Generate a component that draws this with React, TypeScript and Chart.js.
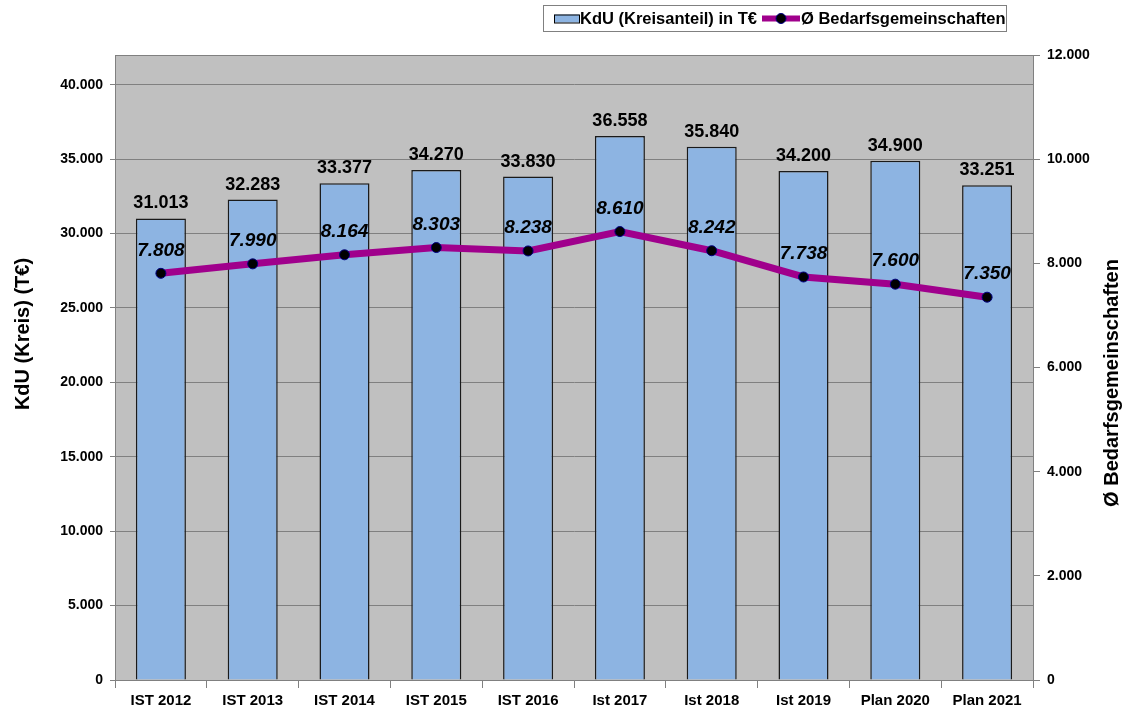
import React, { useEffect, useRef } from 'react';
import { Chart, registerables } from 'chart.js';
Chart.register(...registerables);

const categories = ['IST 2012', 'IST 2013', 'IST 2014', 'IST 2015', 'IST 2016', 'Ist 2017', 'Ist 2018', 'Ist 2019', 'Plan 2020', 'Plan 2021'];
const kduValues = [31013, 32283, 33377, 34270, 33830, 36558, 35840, 34200, 34900, 33251];
const bgValues = [7808, 7990, 8164, 8303, 8238, 8610, 8242, 7738, 7600, 7350];
const leftTickValues = [0, 5000, 10000, 15000, 20000, 25000, 30000, 35000, 40000];
const rightTickValues = [0, 2000, 4000, 6000, 8000, 10000, 12000];
const barLabel = 'KdU (Kreisanteil) in T€';
const lineLabel = 'Ø Bedarfsgemeinschaften';
const leftTitle = 'KdU (Kreis) (T€)';
const rightTitle = 'Ø Bedarfsgemeinschaften';

const FONT = "Arial, 'Liberation Sans', sans-serif";
const BAR_COLOR = '#8DB4E2';
const LINE_COLOR = '#A0008C';

function de(n: number): string {
  return String(Math.round(n)).replace(/\B(?=(\d{3})+(?!\d))/g, '.');
}

const decoPlugin = {
  id: 'deco',
  beforeDraw(chart: any) {
    const { ctx, chartArea } = chart;
    ctx.save();
    ctx.fillStyle = '#C0C0C0';
    ctx.fillRect(chartArea.left, chartArea.top, chartArea.right - chartArea.left, chartArea.bottom - chartArea.top);
    ctx.restore();
  },
  afterDraw(chart: any) {
    const { ctx, chartArea } = chart;
    ctx.save();
    ctx.strokeStyle = '#808080';
    ctx.lineWidth = 1;
    ctx.beginPath();
    ctx.moveTo(chartArea.left, chartArea.top + 0.5);
    ctx.lineTo(chartArea.right, chartArea.top + 0.5);
    ctx.stroke();

    const barMeta = chart.getDatasetMeta(0);
    const lineMeta = chart.getDatasetMeta(1);
    ctx.fillStyle = '#000';
    ctx.textAlign = 'center';
    ctx.textBaseline = 'middle';
    ctx.font = `bold 18px ${FONT}`;
    barMeta.data.forEach((el: any, i: number) => {
      ctx.fillText(de(kduValues[i]), el.x, el.y - 15);
    });
    ctx.font = `italic bold 19px ${FONT}`;
    lineMeta.data.forEach((el: any, i: number) => {
      ctx.fillText(de(bgValues[i]), el.x, el.y - 23);
    });

    ctx.font = `bold 20px ${FONT}`;
    ctx.save();
    ctx.translate(23, 334);
    ctx.rotate(-Math.PI / 2);
    ctx.fillText(leftTitle, 0, 0);
    ctx.restore();
    ctx.save();
    ctx.translate(1112, 383);
    ctx.rotate(-Math.PI / 2);
    ctx.fillText(rightTitle, 0, 0);
    ctx.restore();

    const lx = 543, ly = 5, lw = 463, lh = 26;
    ctx.fillStyle = '#FFFFFF';
    ctx.fillRect(lx, ly, lw, lh);
    ctx.strokeStyle = '#808080';
    ctx.lineWidth = 1;
    ctx.strokeRect(lx + 0.5, ly + 0.5, lw, lh);
    const cy = ly + lh / 2 + 0.5;
    ctx.fillStyle = BAR_COLOR;
    ctx.fillRect(554, cy - 4, 25, 8);
    ctx.strokeStyle = '#000';
    ctx.strokeRect(554.5, cy - 3.5, 25, 8);
    ctx.fillStyle = '#000';
    ctx.textAlign = 'left';
    ctx.font = `bold 16.5px ${FONT}`;
    ctx.fillText(barLabel, 580, cy + 1);
    ctx.strokeStyle = LINE_COLOR;
    ctx.lineWidth = 6;
    ctx.beginPath();
    ctx.moveTo(762, cy);
    ctx.lineTo(800, cy);
    ctx.stroke();
    ctx.beginPath();
    ctx.arc(781, cy, 5, 0, Math.PI * 2);
    ctx.fillStyle = '#000';
    ctx.fill();
    ctx.lineWidth = 1;
    ctx.strokeStyle = '#000080';
    ctx.stroke();
    ctx.fillStyle = '#000';
    ctx.fillText(lineLabel, 801, cy + 1);
    ctx.restore();
  },
};

export default function App() {
  const ref = useRef<HTMLCanvasElement | null>(null);
  useEffect(() => {
    if (!ref.current) return;
    const chart = new Chart(ref.current, {
      type: 'bar',
      data: {
        labels: categories,
        datasets: [
          {
            type: 'bar',
            label: barLabel,
            data: kduValues,
            backgroundColor: BAR_COLOR,
            borderColor: '#1a1a1a',
            borderWidth: 1.5,
            barPercentage: 0.545,
            categoryPercentage: 1,
            yAxisID: 'y',
            order: 1,
          },
          {
            type: 'line',
            label: lineLabel,
            data: bgValues,
            borderColor: LINE_COLOR,
            borderWidth: 7,
            pointRadius: 5,
            pointBackgroundColor: '#000',
            pointBorderColor: '#000080',
            pointBorderWidth: 1,
            yAxisID: 'y1',
            order: 0,
            tension: 0,
          } as any,
        ],
      },
      options: {
        responsive: false,
        animation: false,
        layout: { padding: { top: 55, left: 0, right: 0, bottom: 0 } },
        plugins: { legend: { display: false }, tooltip: { enabled: false } },
        scales: {
          x: {
            offset: true,
            grid: { display: true, drawOnChartArea: false, offset: true, tickLength: 8, color: '#808080' },
            border: { display: true, color: '#808080' },
            ticks: { color: '#000', font: { family: FONT, weight: 'bold', size: 15 }, padding: 4, maxRotation: 0 },
            afterFit: (s: any) => { s.height = 28; },
          },
          y: {
            position: 'left',
            min: 0,
            max: 42000,
            ticks: { autoSkip: false, callback: (v: any) => de(Number(v)), color: '#000', font: { family: FONT, weight: 'bold', size: 14 }, padding: 7 },
            grid: { color: '#808080', tickLength: 5 },
            border: { display: true, color: '#808080' },
            afterBuildTicks: (s: any) => { s.ticks = leftTickValues.map((v) => ({ value: v })); },
            afterFit: (s: any) => { s.width = 115; },
          },
          y1: {
            position: 'right',
            min: 0,
            max: 12000,
            ticks: { autoSkip: false, callback: (v: any) => de(Number(v)), color: '#000', font: { family: FONT, weight: 'bold', size: 14 }, padding: 7 },
            grid: { drawOnChartArea: false, color: '#808080', tickLength: 7 },
            border: { display: true, color: '#808080' },
            afterBuildTicks: (s: any) => { s.ticks = rightTickValues.map((v) => ({ value: v })); },
            afterFit: (s: any) => { s.width = 92; },
          },
        },
      } as any,
      plugins: [decoPlugin],
    });
    return () => chart.destroy();
  }, []);
  return (
    <div style={{ position: 'fixed', left: 0, top: 0, width: 1125, height: 708, background: '#fff' }}>
      <canvas ref={ref} width={1125} height={708} style={{ width: 1125, height: 708, display: 'block' }} />
    </div>
  );
}
